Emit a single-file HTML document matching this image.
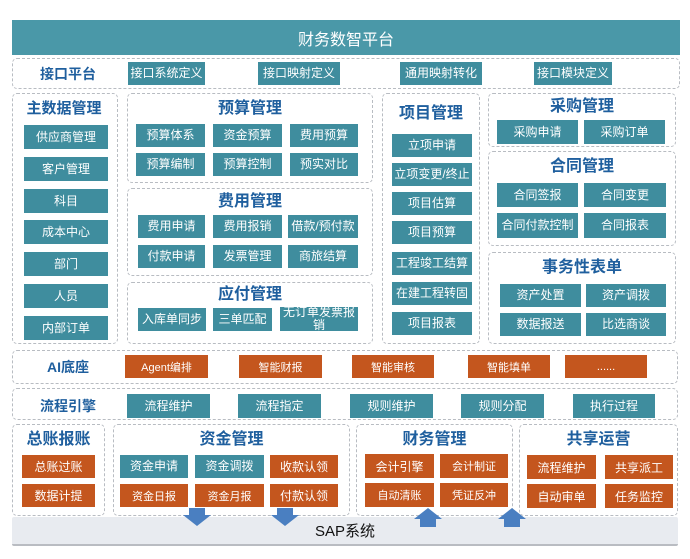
<!DOCTYPE html>
<html><head><meta charset="utf-8"><style>
body{margin:0;width:690px;height:559px;background:#fff;position:relative;overflow:hidden;font-family:"Liberation Sans","Noto Sans CJK SC",sans-serif}
div{position:absolute;box-sizing:border-box}
.p{border:1.3px dashed #b8bcc2;border-radius:5px}
.b{background:#3f8d9e;color:#fff;font-size:12px;display:flex;align-items:center;justify-content:center;text-align:center;line-height:13px}
.o{background:#c4561e;color:#fff;font-size:11px;display:flex;align-items:center;justify-content:center}
.t{color:#1f5f9e;font-size:16px;font-weight:bold;text-align:center;line-height:20px}
.l{color:#1f5f9e;font-size:14px;font-weight:bold}
</style></head><body>
<div style="left:12px;top:20px;width:668px;height:35px;background:#4a98a8;color:#fff;font-size:16px;display:flex;align-items:center;justify-content:center">财务数智平台</div>

<div class="p" style="left:12px;top:58px;width:668px;height:31px"></div>
<div class="l" style="left:40px;top:64px">接口平台</div>
<div class="b" style="left:128px;top:62px;width:77px;height:23px">接口系统定义</div>
<div class="b" style="left:258px;top:62px;width:82px;height:23px">接口映射定义</div>
<div class="b" style="left:400px;top:62px;width:82px;height:23px">通用映射转化</div>
<div class="b" style="left:534px;top:62px;width:78px;height:23px">接口模块定义</div>

<div class="p" style="left:12px;top:93px;width:106px;height:251px"></div>
<div class="t" style="left:12px;top:99px;width:104px;font-size:15px">主数据管理</div>
<div class="b" style="left:24px;top:125px;width:84px;height:24px">供应商管理</div>
<div class="b" style="left:24px;top:157px;width:84px;height:24px">客户管理</div>
<div class="b" style="left:24px;top:189px;width:84px;height:24px">科目</div>
<div class="b" style="left:24px;top:220px;width:84px;height:24px">成本中心</div>
<div class="b" style="left:24px;top:252px;width:84px;height:24px">部门</div>
<div class="b" style="left:24px;top:284px;width:84px;height:24px">人员</div>
<div class="b" style="left:24px;top:316px;width:84px;height:24px">内部订单</div>

<div class="p" style="left:127px;top:93px;width:246px;height:90px"></div>
<div class="t" style="left:127px;top:99px;width:246px">预算管理</div>
<div class="b" style="left:136px;top:124px;width:69px;height:23px">预算体系</div>
<div class="b" style="left:213px;top:124px;width:69px;height:23px">资金预算</div>
<div class="b" style="left:290px;top:124px;width:68px;height:23px">费用预算</div>
<div class="b" style="left:136px;top:153px;width:69px;height:23px">预算编制</div>
<div class="b" style="left:213px;top:153px;width:69px;height:23px">预算控制</div>
<div class="b" style="left:290px;top:153px;width:68px;height:23px">预实对比</div>

<div class="p" style="left:127px;top:188px;width:246px;height:88px"></div>
<div class="t" style="left:127px;top:192px;width:246px">费用管理</div>
<div class="b" style="left:138px;top:215px;width:67px;height:23px">费用申请</div>
<div class="b" style="left:213px;top:215px;width:69px;height:23px">费用报销</div>
<div class="b" style="left:288px;top:215px;width:70px;height:23px">借款/预付款</div>
<div class="b" style="left:138px;top:245px;width:67px;height:23px">付款申请</div>
<div class="b" style="left:213px;top:245px;width:69px;height:23px">发票管理</div>
<div class="b" style="left:288px;top:245px;width:70px;height:23px">商旅结算</div>

<div class="p" style="left:127px;top:282px;width:246px;height:62px"></div>
<div class="t" style="left:127px;top:285px;width:246px">应付管理</div>
<div class="b" style="left:138px;top:308px;width:68px;height:23px">入库单同步</div>
<div class="b" style="left:213px;top:308px;width:59px;height:23px">三单匹配</div>
<div class="b" style="left:280px;top:307px;width:78px;height:24px">无订单发票报销</div>

<div class="p" style="left:382px;top:93px;width:98px;height:251px"></div>
<div class="t" style="left:382px;top:104px;width:98px">项目管理</div>
<div class="b" style="left:392px;top:134px;width:80px;height:23px">立项申请</div>
<div class="b" style="left:392px;top:163px;width:80px;height:23px">立项变更/终止</div>
<div class="b" style="left:392px;top:192px;width:80px;height:23px">项目估算</div>
<div class="b" style="left:392px;top:221px;width:80px;height:23px">项目预算</div>
<div class="b" style="left:392px;top:252px;width:80px;height:23px">工程竣工结算</div>
<div class="b" style="left:392px;top:282px;width:80px;height:23px">在建工程转固</div>
<div class="b" style="left:392px;top:312px;width:80px;height:23px">项目报表</div>

<div class="p" style="left:488px;top:93px;width:188px;height:54px"></div>
<div class="t" style="left:488px;top:97px;width:188px">采购管理</div>
<div class="b" style="left:497px;top:120px;width:81px;height:24px">采购申请</div>
<div class="b" style="left:584px;top:120px;width:81px;height:24px">采购订单</div>

<div class="p" style="left:488px;top:151px;width:188px;height:95px"></div>
<div class="t" style="left:488px;top:157px;width:188px">合同管理</div>
<div class="b" style="left:497px;top:183px;width:81px;height:24px">合同签报</div>
<div class="b" style="left:584px;top:183px;width:82px;height:24px">合同变更</div>
<div class="b" style="left:497px;top:213px;width:81px;height:25px">合同付款控制</div>
<div class="b" style="left:584px;top:213px;width:82px;height:25px">合同报表</div>

<div class="p" style="left:488px;top:252px;width:188px;height:92px"></div>
<div class="t" style="left:488px;top:258px;width:188px">事务性表单</div>
<div class="b" style="left:500px;top:284px;width:81px;height:23px">资产处置</div>
<div class="b" style="left:586px;top:284px;width:80px;height:23px">资产调拨</div>
<div class="b" style="left:500px;top:313px;width:81px;height:23px">数据报送</div>
<div class="b" style="left:586px;top:313px;width:80px;height:23px">比选商谈</div>

<div class="p" style="left:12px;top:350px;width:666px;height:34px"></div>
<div class="l" style="left:47px;top:357px">AI底座</div>
<div class="o" style="left:125px;top:355px;width:83px;height:23px">Agent编排</div>
<div class="o" style="left:239px;top:355px;width:83px;height:23px">智能财报</div>
<div class="o" style="left:352px;top:355px;width:82px;height:23px">智能审核</div>
<div class="o" style="left:468px;top:355px;width:82px;height:23px">智能填单</div>
<div class="o" style="left:565px;top:355px;width:82px;height:23px">......</div>

<div class="p" style="left:12px;top:388px;width:666px;height:32px"></div>
<div class="l" style="left:40px;top:396px">流程引擎</div>
<div class="b" style="left:127px;top:394px;width:83px;height:24px">流程维护</div>
<div class="b" style="left:238px;top:394px;width:83px;height:24px">流程指定</div>
<div class="b" style="left:350px;top:394px;width:83px;height:24px">规则维护</div>
<div class="b" style="left:461px;top:394px;width:83px;height:24px">规则分配</div>
<div class="b" style="left:573px;top:394px;width:82px;height:24px">执行过程</div>

<div class="p" style="left:12px;top:424px;width:93px;height:92px"></div>
<div class="t" style="left:12px;top:430px;width:93px">总账报账</div>
<div class="o" style="left:22px;top:455px;width:73px;height:23px;font-size:12px">总账过账</div>
<div class="o" style="left:22px;top:484px;width:73px;height:23px;font-size:12px">数据计提</div>

<div class="p" style="left:113px;top:424px;width:237px;height:92px"></div>
<div class="t" style="left:113px;top:430px;width:237px">资金管理</div>
<div class="b" style="left:120px;top:455px;width:68px;height:23px">资金申请</div>
<div class="b" style="left:195px;top:455px;width:69px;height:23px">资金调拨</div>
<div class="o" style="left:270px;top:455px;width:68px;height:23px;font-size:12px">收款认领</div>
<div class="o" style="left:120px;top:484px;width:68px;height:23px">资金日报</div>
<div class="o" style="left:195px;top:484px;width:69px;height:23px">资金月报</div>
<div class="o" style="left:270px;top:484px;width:68px;height:23px;font-size:12px">付款认领</div>

<div class="p" style="left:356px;top:424px;width:157px;height:92px"></div>
<div class="t" style="left:356px;top:430px;width:157px">财务管理</div>
<div class="o" style="left:365px;top:454px;width:69px;height:24px;font-size:12px">会计引擎</div>
<div class="o" style="left:440px;top:454px;width:68px;height:24px">会计制证</div>
<div class="o" style="left:365px;top:483px;width:69px;height:24px">自动清账</div>
<div class="o" style="left:440px;top:483px;width:68px;height:24px">凭证反冲</div>

<div class="p" style="left:519px;top:424px;width:159px;height:92px"></div>
<div class="t" style="left:519px;top:430px;width:159px">共享运营</div>
<div class="o" style="left:527px;top:455px;width:69px;height:24px;font-size:12px">流程维护</div>
<div class="o" style="left:605px;top:455px;width:68px;height:24px;font-size:12px">共享派工</div>
<div class="o" style="left:527px;top:484px;width:69px;height:24px;font-size:12px">自动审单</div>
<div class="o" style="left:605px;top:484px;width:68px;height:24px;font-size:12px">任务监控</div>

<div style="left:12px;top:517px;width:666px;height:29px;background:#e8ebf0;border-bottom:2px solid #b9bcc2;border-radius:2px;display:flex;align-items:center;justify-content:center;font-size:15px;color:#111">SAP系统</div>

<svg style="position:absolute;left:0;top:0" width="690" height="559">
<g fill="#4a7fc1">
<polygon points="189,508 205,508 205,515 211,515 197,526 183,515 189,515"/>
<polygon points="277,508 293,508 293,515 299,515 285,526 271,515 277,515"/>
<polygon points="420,527 436,527 436,519 442,519 428,508 414,519 420,519"/>
<polygon points="504,527 520,527 520,519 526,519 512,508 498,519 504,519"/>
</g>
</svg>
</body></html>
